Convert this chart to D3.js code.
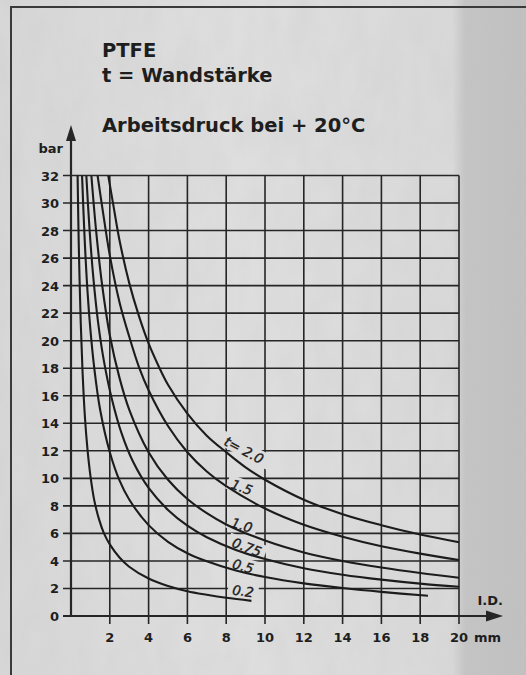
<!DOCTYPE html>
<html><head><meta charset="utf-8">
<script src="https://cdn.jsdelivr.net/npm/d3@7"></script>
<style>html,body{margin:0;padding:0;background:#d9d9d9;overflow:hidden}svg{display:block}</style>
</head><body>
<script>
// ---- data ----
const xTicks = [2, 4, 6, 8, 10, 12, 14, 16, 18, 20];
const yTicks = [0, 2, 4, 6, 8, 10, 12, 14, 16, 18, 20, 22, 24, 26, 28, 30, 32];
const titleLines = ["PTFE", "t = Wandstärke", "Arbeitsdruck bei + 20°C"];

// I.D. (mm) vs working pressure (bar), one array per wall thickness t
const curveT20 = [[1.92,32],[2.2,29.7],[2.5,27.3],[3,24.2],[3.5,21.8],[4,19.8],[4.5,18.2],[5,16.8],[6,14.7],[7,13.1],[8,11.9],[9,10.8],[10,9.9],[12,8.45],[14,7.4],[16,6.6],[18,5.92],[20,5.36]];
const curveT15 = [[1.37,32],[1.6,29.8],[2,26.2],[2.5,22.8],[3,20.3],[3.5,18.1],[4,16.4],[5,13.8],[6,11.9],[7,10.5],[8,9.43],[10,7.81],[12,6.63],[14,5.76],[16,5.07],[18,4.53],[20,4.07]];
const curveT10 = [[1.05,32],[1.3,27.9],[1.6,24.1],[2,20.4],[2.5,17.3],[3,15.0],[4,11.9],[5,9.9],[6,8.5],[7,7.47],[8,6.65],[10,5.48],[12,4.62],[14,4.0],[16,3.52],[18,3.12],[20,2.78]];
const curveT075 = [[0.79,32],[0.95,28.2],[1.15,24.6],[1.4,21.3],[1.7,18.5],[2.1,15.8],[2.6,13.3],[3.2,11.2],[4,9.3],[5,7.7],[6,6.56],[7,5.72],[8.5,4.8],[10,4.14],[12,3.47],[14,3.0],[16,2.64],[18,2.35],[20,2.12]];
const curveT05 = [[0.57,32],[0.7,27.5],[0.85,23.6],[1.0,20.8],[1.2,18],[1.5,15.0],[2,11.9],[2.5,9.85],[3,8.46],[4,6.6],[5,5.39],[6,4.56],[7,3.97],[8.5,3.3],[10,2.83],[12,2.37],[14,2.03],[16,1.75],[18.4,1.47]];
const curveT02 = [[0.34,32],[0.4,27],[0.5,21.4],[0.6,17.6],[0.72,14.4],[0.85,12.1],[1.0,10.2],[1.2,8.4],[1.45,7.0],[1.7,6.0],[2,5.2],[2.5,4.25],[3,3.58],[4,2.72],[5,2.18],[6,1.8],[7,1.54],[8,1.32],[9.3,1.1]];

const curveData  = [curveT20, curveT15, curveT10, curveT075, curveT05, curveT02];
const curveNames = ["t= 2.0", "1.5", "1.0", "0.75", "0.5", "0.2"];
// label anchor (data units) and tilt
const labelX = [8.92, 8.81, 8.81, 9.07, 8.87, 8.87];
const labelY = [12.06, 9.37, 6.61, 5.01, 3.63, 1.82];
const labelTilt = [28, 20, 16, 20, 15, 8];

// ---- layout ----
const W = 526, H = 675;
const x = d3.scaleLinear().domain([0, 20]).range([71, 459]);
const y = d3.scaleLinear().domain([0, 32]).range([616, 175.5]);
const ink = "#262626";

const svg = d3.select("body").append("svg").attr("width", W).attr("height", H);
const defs = svg.append("defs");
const f = defs.append("filter").attr("id", "paper").attr("x", 0).attr("y", 0).attr("width", "100%").attr("height", "100%");
f.append("feTurbulence").attr("type", "fractalNoise").attr("baseFrequency", "0.045 0.02").attr("numOctaves", 3).attr("seed", 7).attr("result", "n");
f.append("feColorMatrix").attr("in", "n").attr("type", "matrix")
  .attr("values", "0 0 0 0 0.55  0 0 0 0 0.55  0 0 0 0 0.55  0 0 0 0.9 -0.25");
const g1 = defs.append("linearGradient").attr("id", "bg").attr("x1", 0).attr("x2", 1).attr("y1", 0).attr("y2", 0);
g1.append("stop").attr("offset", "0").attr("stop-color", "#d7d7d7");
g1.append("stop").attr("offset", "0.45").attr("stop-color", "#dedede");
g1.append("stop").attr("offset", "0.86").attr("stop-color", "#d9d9d9");
g1.append("stop").attr("offset", "0.885").attr("stop-color", "#c4c4c4");
g1.append("stop").attr("offset", "1").attr("stop-color", "#c0c0c0");

svg.append("rect").attr("width", W).attr("height", H).attr("fill", "url(#bg)");
svg.append("rect").attr("width", W).attr("height", H).attr("filter", "url(#paper)").attr("opacity", 0.35);

// frame
svg.append("path").attr("d", `M11,${H} V7 H${W}`).attr("fill", "none").attr("stroke", "#3a3a3a").attr("stroke-width", 2);

// title
const tf = "'DejaVu Sans', sans-serif";
const titleY = [57, 82, 132];
svg.selectAll("text.title").data(titleLines).join("text").attr("class", "title")
  .attr("x", 102).attr("y", (d, i) => titleY[i])
  .attr("font-family", tf).attr("font-weight", "bold").attr("font-size", 19.5).attr("fill", "#1e1e1e")
  .text(d => d);

// grid
const grid = svg.append("g").attr("stroke", ink).attr("stroke-width", 1.6);
grid.selectAll("line.h").data(yTicks.filter(d => d > 0)).join("line")
  .attr("x1", 63).attr("x2", x(20)).attr("y1", d => y(d)).attr("y2", d => y(d));
grid.selectAll("line.v").data(xTicks).join("line")
  .attr("x1", d => x(d)).attr("x2", d => x(d)).attr("y1", y(32)).attr("y2", y(0) + 8);

// axes
const ax = svg.append("g").attr("stroke", ink).attr("stroke-width", 2.2).attr("fill", "none");
ax.append("line").attr("x1", x(0)).attr("x2", x(0)).attr("y1", y(0)).attr("y2", 138);
ax.append("line").attr("x1", 63).attr("x2", 490).attr("y1", y(0)).attr("y2", y(0));
svg.append("path").attr("fill", ink).attr("d", `M${x(0)},125 L${x(0) - 5},141 L${x(0) + 5},141 Z`);
svg.append("path").attr("fill", ink).attr("d", `M503,${y(0)} L486,${y(0) - 5.5} L486,${y(0) + 5.5} Z`);

// tick labels
const lf = { family: tf, size: 13 };
svg.selectAll("text.yl").data(yTicks).join("text").attr("class", "yl")
  .attr("x", 59).attr("y", d => y(d) + 5).attr("text-anchor", "end")
  .attr("font-family", lf.family).attr("font-weight", "bold").attr("font-size", lf.size).attr("fill", "#1e1e1e")
  .text(d => d);
svg.selectAll("text.xl").data(xTicks).join("text").attr("class", "xl")
  .attr("x", d => x(d)).attr("y", 642).attr("text-anchor", "middle")
  .attr("font-family", lf.family).attr("font-weight", "bold").attr("font-size", lf.size).attr("fill", "#1e1e1e")
  .text(d => d);
svg.append("text").attr("x", 474).attr("y", 642).attr("font-family", lf.family).attr("font-weight", "bold")
  .attr("font-size", lf.size).attr("fill", "#1e1e1e").text("mm");
svg.append("text").attr("x", 63).attr("y", 153).attr("text-anchor", "end").attr("font-family", lf.family)
  .attr("font-weight", "bold").attr("font-size", lf.size).attr("fill", "#1e1e1e").text("bar");
svg.append("text").attr("x", 503).attr("y", 605).attr("text-anchor", "end").attr("font-family", lf.family)
  .attr("font-weight", "bold").attr("font-size", lf.size).attr("fill", "#1e1e1e").text("I.D.");

// curve labels: background patches that break the grid
const labG = svg.append("g");
const labs = labG.selectAll("g").data(curveNames).join("g")
  .attr("transform", (d, i) => `translate(${x(labelX[i])},${y(labelY[i])}) rotate(${labelTilt[i]})`);
labs.append("rect").attr("x", (d) => -d.length * 4.4 - 2).attr("y", -8).attr("width", d => d.length * 8.8 + 4).attr("height", 15)
  .attr("fill", "#dcdcdc");

// curves
const line = d3.line().x(d => x(d[0])).y(d => y(d[1])).curve(d3.curveCatmullRom.alpha(0.5));
svg.append("g").selectAll("path").data(curveData).join("path")
  .attr("d", line).attr("fill", "none").attr("stroke", "#1c1c1c").attr("stroke-width", 2.1).attr("stroke-linecap", "butt");

labs.append("text").attr("text-anchor", "middle").attr("y", 5)
  .attr("font-family", tf).attr("font-size", 13.5).attr("fill", "#1c1c1c").attr("font-style", "italic")
  .attr("stroke", "#1c1c1c").attr("stroke-width", 0.35)
  .text(d => d);
</script>
</body></html>
